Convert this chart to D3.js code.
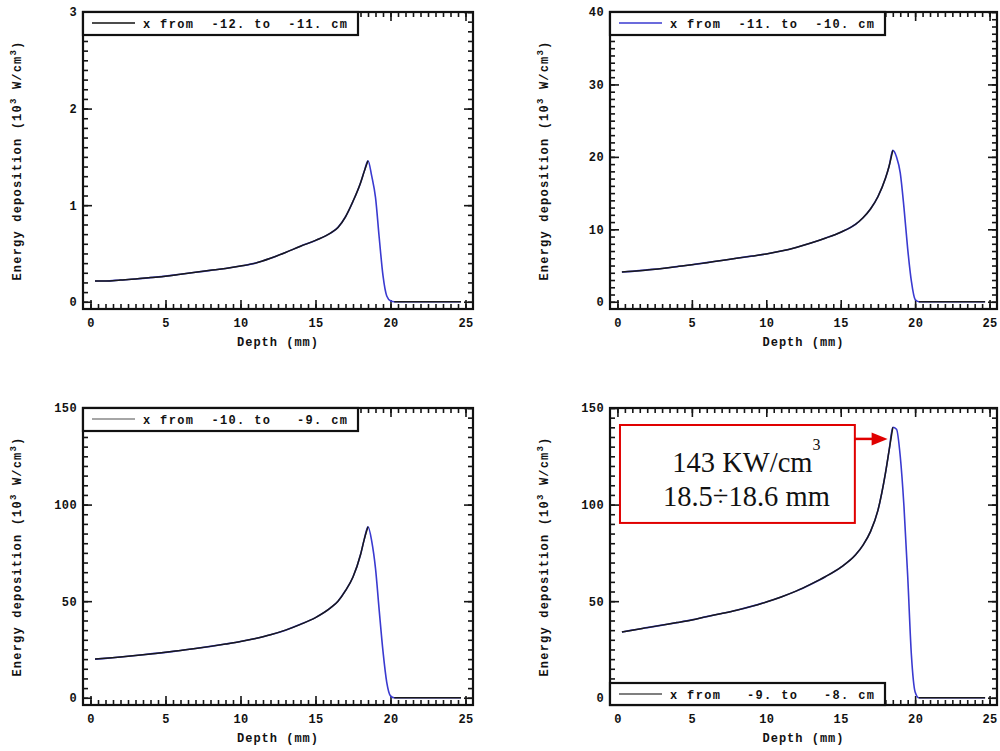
<!DOCTYPE html>
<html>
<head>
<meta charset="utf-8">
<script src="https://cdn.jsdelivr.net/npm/d3@7"></script>
<style>
  body { margin: 0; background: #fff; }
  svg { display: block; }
  text { font-family: "Liberation Mono", "DejaVu Sans Mono", monospace; font-weight: bold; fill: #111; }
</style>
</head>
<body>
<svg width="1000" height="751"></svg>
<script>
// depth samples (mm), shared by every panel
var depth = [0.3, 1, 2, 3, 4, 5, 6, 7, 8, 9, 10, 11, 12, 13, 14, 15, 16, 16.5, 17, 17.5, 18,
  18.25, 18.5, 18.75, 19, 19.25, 19.5, 19.75, 20, 20.25, 21, 22, 23, 24, 24.7];

// energy deposition, 10^3 W/cm^3
var edepA = [0.215, 0.215, 0.225, 0.235, 0.25, 0.265, 0.285, 0.305, 0.325, 0.345, 0.37, 0.40, 0.45, 0.51, 0.575, 0.635, 0.71, 0.77, 0.88, 1.04, 1.23,
  1.35, 1.46, 1.30, 1.08, 0.66, 0.27, 0.06, 0.01, 0, 0, 0, 0, 0, 0];
var edepB = [4.1, 4.2, 4.4, 4.6, 4.85, 5.1, 5.4, 5.7, 6.0, 6.3, 6.6, 7.0, 7.5, 8.1, 8.8, 9.6, 10.7, 11.6, 12.8, 14.5, 17.0,
  18.7, 20.9, 20.0, 17.8, 13.0, 7.3, 2.8, 0.3, 0, 0, 0, 0, 0, 0];
var edepC = [20, 20.4, 21.1, 21.9, 22.7, 23.5, 24.5, 25.5, 26.6, 27.8, 29.1, 30.7, 32.6, 35, 38, 41.5, 46.5, 50, 55.5, 62.5, 74,
  82, 88.5, 81, 67, 45, 24, 8, 1, 0, 0, 0, 0, 0, 0];
var edepD = [34, 35, 36.3, 37.6, 38.9, 40.3, 42, 43.6, 45.3, 47.3, 49.6, 52.2, 55.2, 58.8, 62.8, 67.5, 74, 79, 86, 97, 116,
  128, 140, 139, 125, 99, 63, 22, 3, 0, 0, 0, 0, 0, 0];

var legendLabels = ['x from  -12. to  -11. cm', 'x from  -11. to  -10. cm',
  'x from  -10. to   -9. cm', 'x from   -9. to   -8. cm'];
var legendColors = ['#111', '#3a3ad0', '#888', '#555'];
var xTicks = [0, 5, 10, 15, 20, 25];
var yMaxes = [3, 40, 150, 150];
var yTickSteps = [1, 10, 50, 50];
var yMinorSteps = [0.1, 1, 5, 5];

// annotation in panel 4
var peakText = ['143 KW/cm', '18.5\u00f718.6 mm'];

var svg = d3.select('svg');

var frames = [
  {left: 83, right: 473, top: 12, bottom: 309},
  {left: 610, right: 997, top: 12, bottom: 309},
  {left: 83, right: 473, top: 408, bottom: 705},
  {left: 610, right: 997, top: 408, bottom: 705}
];
var series = [edepA, edepB, edepC, edepD];

frames.forEach(function(f, p) {
  var w = f.right - f.left, h = f.bottom - f.top;
  var ymax = yMaxes[p];
  var x = d3.scaleLinear().domain([-0.5, 25.5]).range([0, w]);
  var y = d3.scaleLinear().domain([-0.025 * ymax, ymax]).range([h, 0]);
  var g = svg.append('g').attr('transform', `translate(${f.left},${f.top})`);

  var xMinor = d3.range(0, 25.01, 0.5);
  var yMinor = d3.range(0, ymax + 0.001, yMinorSteps[p]);
  var yMajor = d3.range(0, ymax + 0.001, yTickSteps[p]);

  // frame
  g.append('rect').attr('width', w).attr('height', h).attr('fill', 'none')
    .attr('stroke', '#111').attr('stroke-width', 2.2);

  // inward ticks on all four sides, drawn through d3 axes
  function tickAxis(axisFn, tr, vals, len) {
    var a = g.append('g').attr('transform', tr)
      .call(axisFn.tickValues(vals).tickSizeInner(-len).tickSizeOuter(0).tickFormat(() => ''));
    a.select('.domain').remove();
    a.selectAll('.tick line').attr('stroke', '#151515').attr('stroke-width', 1.6);
  }
  tickAxis(d3.axisBottom(x), `translate(0,${h})`, xMinor, 5);
  tickAxis(d3.axisTop(x), 'translate(0,0)', xMinor, 5);
  tickAxis(d3.axisLeft(y), 'translate(0,0)', yMinor, 5);
  tickAxis(d3.axisRight(y), `translate(${w},0)`, yMinor, 5);
  tickAxis(d3.axisBottom(x), `translate(0,${h})`, xTicks, 9);
  tickAxis(d3.axisTop(x), 'translate(0,0)', xTicks, 9);
  tickAxis(d3.axisLeft(y), 'translate(0,0)', yMajor, 9);
  tickAxis(d3.axisRight(y), `translate(${w},0)`, yMajor, 9);

  // curves: blue under black, black skips the falling edge
  var data = depth.map(function(d, i) { return {x: d, y: series[p][i]}; });
  var peakX = depth[d3.maxIndex(series[p])];
  var curve = d3.line().x(d => x(d.x)).y(d => y(d.y)).curve(d3.curveMonotoneX);
  g.append('path').attr('d', curve(data)).attr('fill', 'none')
    .attr('stroke', '#3a3ad0').attr('stroke-width', 1.6);
  g.append('path').attr('d', curve.defined(d => d.x <= peakX || d.x >= 20.25)(data)).attr('fill', 'none')
    .attr('stroke', '#1a1a1a').attr('stroke-width', 1.5);

  // tick labels
  var xa = g.append('g').attr('transform', `translate(0,${h})`)
    .call(d3.axisBottom(x).tickValues(xTicks).tickSize(0).tickPadding(9));
  var ya = g.append('g')
    .call(d3.axisLeft(y).tickValues(yMajor).tickSize(0).tickPadding(6).tickFormat(d3.format('d')));
  [xa, ya].forEach(function(a) {
    a.select('.domain').remove();
    a.selectAll('.tick line').remove();
    a.selectAll('text').attr('font-size', 12).attr('font-family', '"Liberation Mono", monospace')
      .attr('font-weight', 'bold').attr('letter-spacing', 0.4).attr('fill', '#111');
  });

  // legend
  var lg = g.append('g').attr('transform', p === 3 ? `translate(0,${h - 22})` : 'translate(0,0)');
  lg.append('rect').attr('width', 275).attr('height', p === 3 ? 22 : 23)
    .attr('fill', '#fff').attr('stroke', '#111').attr('stroke-width', 2.2);
  lg.append('line').attr('x1', 9).attr('x2', 52).attr('y1', 11).attr('y2', 11)
    .attr('stroke', legendColors[p]).attr('stroke-width', 1.3);
  lg.append('text').attr('x', 60).attr('y', 15.5).attr('font-size', 12)
    .attr('letter-spacing', 1.35).style('white-space', 'pre').text(legendLabels[p]);

  // axis titles
  svg.append('text').attr('x', f.left + w / 2).attr('y', f.bottom + 37)
    .attr('text-anchor', 'middle').attr('font-size', 12).attr('letter-spacing', 1)
    .style('white-space', 'pre').text('Depth (mm)');
  var yt = svg.append('text')
    .attr('transform', `translate(${f.left - 62},${f.top + h / 2}) rotate(-90)`)
    .attr('text-anchor', 'middle').attr('font-size', 12).attr('letter-spacing', 1.2)
    .style('white-space', 'pre');
  yt.append('tspan').text('Energy deposition (10');
  yt.append('tspan').attr('font-size', 9).attr('dy', -5).text('3');
  yt.append('tspan').attr('dy', 5).text(' W/cm');
  yt.append('tspan').attr('font-size', 9).attr('dy', -5).text('3');
  yt.append('tspan').attr('dy', 5).text(')');

  if (p === 3) {
    // red annotation box pointing at the Bragg peak
    var bx0 = x(0.17), bx1 = x(15.95), by0 = y(141.2), by1 = y(90.5);
    var tipX = x(18.15), tipY = y(134);
    var ag = g.append('g');
    ag.append('rect').attr('x', bx0).attr('y', by0).attr('width', bx1 - bx0).attr('height', by1 - by0)
      .attr('fill', '#fff').attr('stroke', '#e00000').attr('stroke-width', 2);
    ag.append('line').attr('x1', bx1).attr('x2', tipX - 14).attr('y1', tipY).attr('y2', tipY)
      .attr('stroke', '#e00000').attr('stroke-width', 2.5);
    ag.append('path')
      .attr('d', `M${tipX},${tipY} L${tipX - 16},${tipY - 6.5} L${tipX - 16},${tipY + 6.5} Z`)
      .attr('fill', '#e00000');
    var cx = (bx0 + bx1) / 2 + 9;
    var t1 = ag.append('text').attr('x', cx).attr('y', by0 + 47).attr('text-anchor', 'middle')
      .style('font-family', '"Liberation Serif", "Times New Roman", serif').style('font-weight', 'normal')
      .attr('font-size', 28.5);
    t1.append('tspan').text(peakText[0]);
    t1.append('tspan').attr('font-size', 16).attr('dy', -22).text('3');
    ag.append('text').attr('x', cx).attr('y', by0 + 81).attr('text-anchor', 'middle')
      .style('font-family', '"Liberation Serif", "Times New Roman", serif').style('font-weight', 'normal')
      .attr('font-size', 28.5).text(peakText[1]);
  }
});
</script>
</body>
</html>
